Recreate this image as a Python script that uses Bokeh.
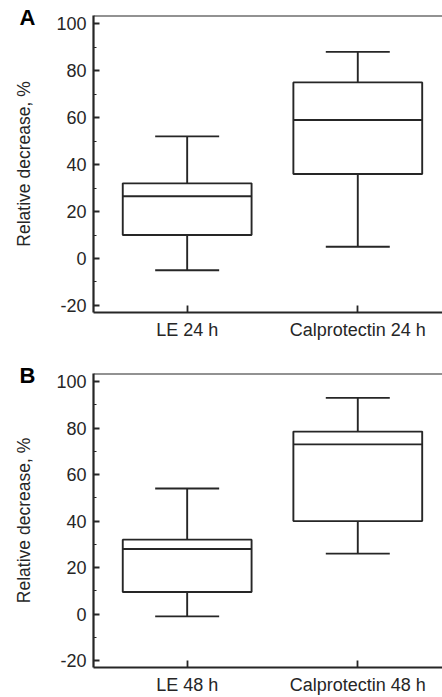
from bokeh.plotting import figure
from bokeh.layouts import column
from bokeh.models import (Range1d, FixedTicker, SingleIntervalTicker, Span, LinearAxis,
                          ColumnDataSource)
from bokeh.embed import file_html
from bokeh.resources import INLINE

# ---- data ----
categories_a = ["LE 24 h", "Calprotectin 24 h"]
min_a = [-5, 5]
q1_a = [10, 36]
median_a = [26.5, 59]
q3_a = [32, 75]
max_a = [52, 88]

categories_b = ["LE 48 h", "Calprotectin 48 h"]
min_b = [-1, 26]
q1_b = [9.5, 40]
median_b = [28, 73]
q3_b = [32, 78.5]
max_b = [54, 93]

positions = [1, 2]
panel_letters = ["A", "B"]
y_label = "Relative decrease, %"
y_tick_labels = {-20: "-20", 0: "0", 20: "20", 40: "40", 60: "60", 80: "80", 100: "100"}
letter_level = 102.7   # height (in axis units) at which the panel letter sits

FONT = "Liberation Sans"
INK = "#262626"
BOX_W = 0.755
CAP_W = 0.375
LW = 1.9
FRAME_H = 297


def make_panel(letter, cats, mins, q1, med, q3, maxs, top, bottom):
    src = ColumnDataSource(dict(
        x=positions, mins=mins, q1=q1, med=med, q3=q3, maxs=maxs,
        x0=[x - BOX_W / 2 for x in positions], x1=[x + BOX_W / 2 for x in positions],
        c0=[x - CAP_W / 2 for x in positions], c1=[x + CAP_W / 2 for x in positions],
    ))
    p = figure(width=442, height=top + FRAME_H + bottom,
               x_range=Range1d(0.451, 2.4965), y_range=Range1d(-23, 103.5),
               output_backend="svg", toolbar_location=None,
               min_border_left=93, min_border_right=0,
               min_border_top=top, min_border_bottom=bottom)
    p.outline_line_color = None
    p.grid.visible = False
    p.background_fill_color = "white"
    p.border_fill_color = "white"

    # whiskers and caps
    p.segment(x0="x", y0="q3", x1="x", y1="maxs", source=src, line_color=INK, line_width=LW)
    p.segment(x0="x", y0="q1", x1="x", y1="mins", source=src, line_color=INK, line_width=LW)
    p.segment(x0="c0", y0="maxs", x1="c1", y1="maxs", source=src, line_color=INK, line_width=LW)
    p.segment(x0="c0", y0="mins", x1="c1", y1="mins", source=src, line_color=INK, line_width=LW)
    # boxes
    p.vbar(x="x", width=BOX_W, top="q3", bottom="q1", source=src,
           fill_color="white", line_color=INK, line_width=LW)
    # medians
    p.segment(x0="x0", y0="med", x1="x1", y1="med", source=src, line_color=INK, line_width=LW)

    # top border (the original shows no right border)
    p.add_layout(Span(location=103.5, dimension="width", line_color=INK, line_width=2.2))

    # main y axis (numbers only)
    ya = p.yaxis[0]
    ya.ticker = SingleIntervalTicker(interval=20, num_minor_ticks=2)
    ya.major_label_overrides = y_tick_labels
    ya.major_label_text_font = FONT
    ya.major_label_text_font_size = "18px"
    ya.major_label_text_color = INK
    ya.major_label_standoff = 7
    ya.major_tick_in = 6
    ya.major_tick_out = 0
    ya.minor_tick_in = 3
    ya.minor_tick_out = 0
    ya.axis_line_width = 2.2
    ya.axis_line_color = INK
    ya.major_tick_line_color = INK
    ya.minor_tick_line_color = INK
    ya.major_tick_line_width = 1.8
    ya.minor_tick_line_width = 1.2

    # outer left axis: carries the panel letter and the axis title
    la = LinearAxis(ticker=FixedTicker(ticks=[letter_level]),
                    major_label_overrides={letter_level: letter})
    la.axis_line_color = None
    la.major_tick_line_color = None
    la.minor_tick_line_color = None
    la.major_tick_in = 0
    la.major_tick_out = 0
    la.major_label_standoff = 18
    la.major_label_text_font = FONT
    la.major_label_text_font_size = "22px"
    la.major_label_text_font_style = "bold"
    la.major_label_text_color = "black"
    la.axis_label = y_label
    la.axis_label_text_font = FONT
    la.axis_label_text_font_size = "17.5px"
    la.axis_label_text_font_style = "normal"
    la.axis_label_text_color = INK
    la.axis_label_standoff = -17
    p.add_layout(la, "left")

    # x axis
    xa = p.xaxis[0]
    xa.ticker = FixedTicker(ticks=positions)
    xa.major_label_overrides = {pos: c for pos, c in zip(positions, cats)}
    xa.major_label_text_font = FONT
    xa.major_label_text_font_size = "18px"
    xa.major_label_text_color = INK
    xa.major_label_standoff = 7
    xa.major_tick_in = 7
    xa.major_tick_out = 0
    xa.minor_tick_line_color = None
    xa.axis_line_width = 2.2
    xa.axis_line_color = INK
    xa.major_tick_line_color = INK
    xa.major_tick_line_width = 1.8
    return p


pa = make_panel(panel_letters[0], categories_a, min_a, q1_a, median_a, q3_a, max_a,
                top=15, bottom=33)
pb = make_panel(panel_letters[1], categories_b, min_b, q1_b, median_b, q3_b, max_b,
                top=28, bottom=27)

layout = column(pa, pb, spacing=0)
open("out.html", "w").write(file_html(layout, INLINE))
